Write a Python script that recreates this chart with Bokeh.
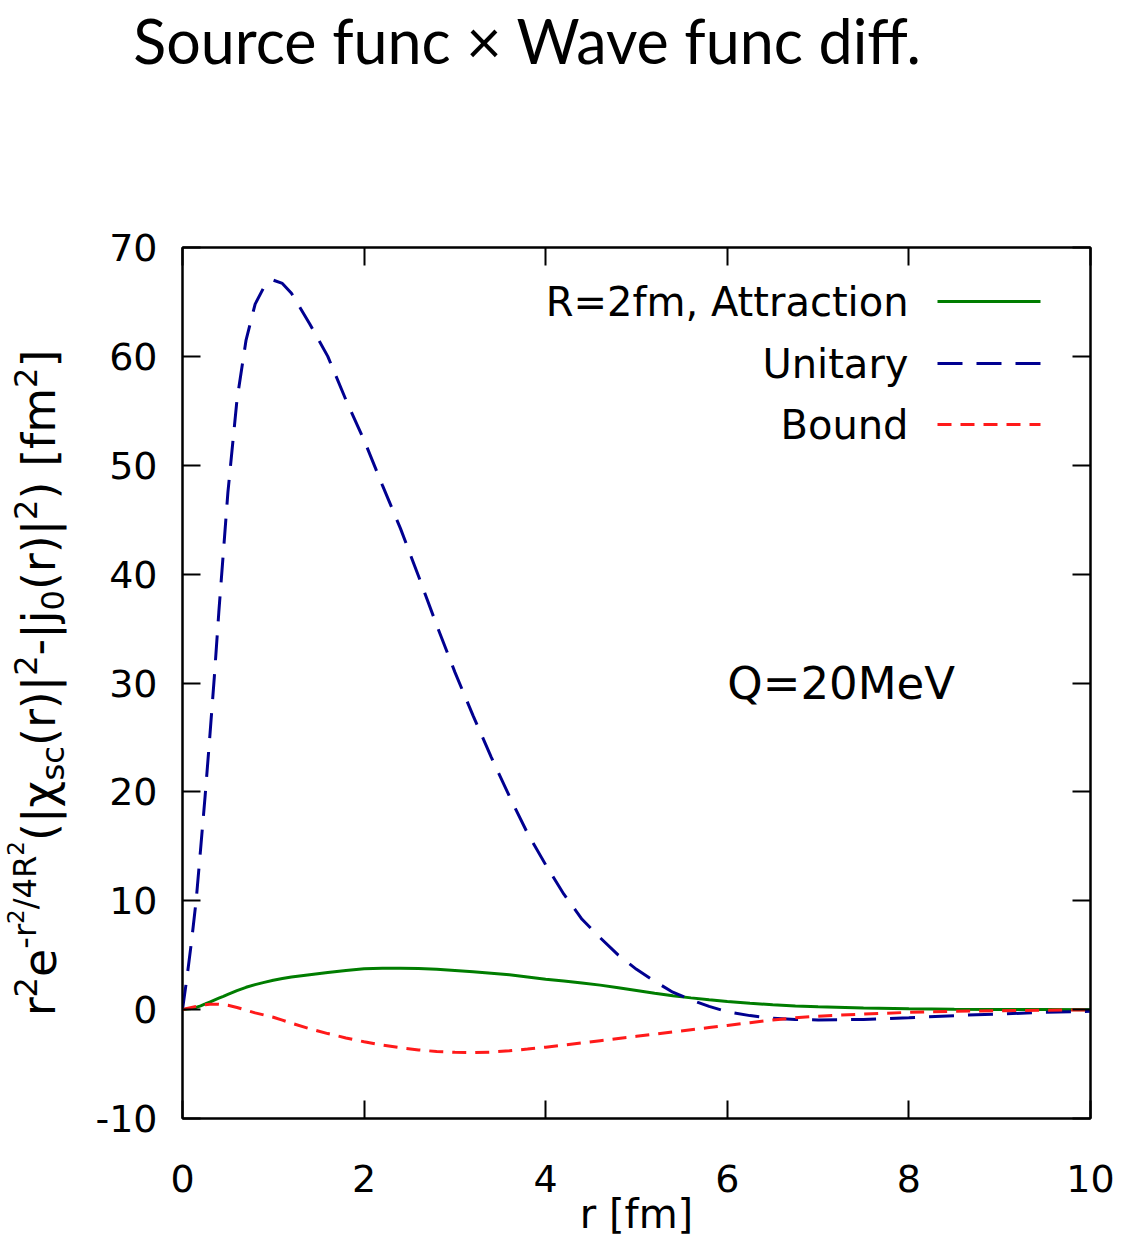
import math
from bokeh.plotting import figure
from bokeh.layouts import column, row
from bokeh.models import Label, LinearAxis, Range1d, FixedTicker, Arrow, ColumnDataSource
from bokeh.core.properties import value
from bokeh.embed import file_html
from bokeh.resources import INLINE

# ---------------- data ----------------
r = [0.0, 0.05, 0.1, 0.15, 0.2, 0.25, 0.3, 0.35, 0.4, 0.45, 0.5, 0.6, 0.7, 0.8, 0.9,
     1.0, 1.1, 1.2, 1.4, 1.6, 1.8, 2.0, 2.2, 2.4, 2.6, 2.8, 3.0, 3.2, 3.4, 3.6, 3.8,
     4.0, 4.2, 4.4, 4.6, 4.8, 5.0, 5.2, 5.4, 5.6, 5.8, 6.0, 6.25, 6.5, 6.75, 7.0,
     7.5, 8.0, 8.5, 9.0, 9.5, 10.0]

unitary = [0.0, 3.0, 6.3, 10.0, 14.8, 19.7, 25.0, 30.5, 36.5, 42.0, 47.5, 56.0, 61.5, 64.8, 66.4,
           67.0, 66.7, 65.8, 63.0, 60.0, 56.0, 52.3, 48.2, 44.2, 39.8, 35.3, 31.0, 27.0, 23.2, 19.6, 16.2,
           13.3, 10.6, 8.3, 6.6, 5.0, 3.7, 2.6, 1.6, 0.9, 0.3, -0.2, -0.55, -0.8, -0.9, -0.95,
           -0.9, -0.75, -0.55, -0.4, -0.25, -0.15]

attraction = [0.0, 0.05, 0.1, 0.2, 0.35, 0.52, 0.7, 0.88, 1.05, 1.22, 1.4, 1.75, 2.05, 2.3, 2.5,
              2.7, 2.85, 3.0, 3.2, 3.4, 3.6, 3.75, 3.8, 3.8, 3.78, 3.7, 3.6, 3.48, 3.35, 3.2, 3.0,
              2.8, 2.62, 2.44, 2.25, 2.0, 1.75, 1.5, 1.28, 1.08, 0.9, 0.75, 0.58, 0.45, 0.34, 0.26,
              0.15, 0.08, 0.04, 0.02, 0.01, 0.0]

bound = [0.0, 0.1, 0.2, 0.3, 0.4, 0.45, 0.5, 0.5, 0.5, 0.45, 0.4, 0.2, -0.05, -0.3, -0.5,
         -0.7, -0.97, -1.25, -1.75, -2.2, -2.6, -2.95, -3.25, -3.5, -3.7, -3.85, -3.92, -3.95, -3.9, -3.78, -3.62,
         -3.45, -3.25, -3.05, -2.85, -2.65, -2.45, -2.25, -2.05, -1.85, -1.65, -1.45, -1.2, -0.95, -0.75, -0.6,
         -0.4, -0.25, -0.15, -0.1, -0.05, -0.03]

series_names = ["R=2fm, Attraction", "Unitary", "Bound"]
x_ticks = [0, 2, 4, 6, 8, 10]
y_ticks = [-10, 0, 10, 20, 30, 40, 50, 60, 70]
title_text = "Source func \u00d7 Wave func diff."
x_label = "r [fm]"
note_text = "Q=20MeV"

# ---------------- styles / layout ----------------
GREEN = "#007d00"
BLUE = "#000090"
RED = "#ff1a1a"
BLUE_DASH = "25 14"
RED_DASH = "14 9"
AXFONT = "DejaVu Sans"
W, H = 1135, 1239
TOP_H = 120        # title strip height
LEFT_W = 82        # y-label strip width
FL, FR, FT, FB = 182, 1090, 247, 1119   # frame edges in page px
MID_SHIFT = 0.43   # text drawn with 'middle' baseline: baseline lies this many em below

# ---- title strip ----
tfig = figure(width=W, height=TOP_H, output_backend="svg", toolbar_location=None,
              x_range=Range1d(0, W), y_range=Range1d(0, TOP_H),
              x_axis_type=None, y_axis_type=None, min_border=0)
tfig.outline_line_color = None
tfig.xgrid.visible = False
tfig.ygrid.visible = False
TSIZE = 61
TBASE = 66
tfig.text(x=[527], y=[TOP_H - (TBASE - MID_SHIFT * TSIZE)], text=[title_text],
          text_font=value("Lato"), text_font_size=f"{TSIZE}px", text_color="black",
          text_align="center", text_baseline="middle")

# ---- main plot ----
MH = H - TOP_H
p = figure(width=W - LEFT_W, height=MH, output_backend="svg", toolbar_location=None,
           x_range=Range1d(0, 10), y_range=Range1d(-10, 70),
           min_border_left=FL - LEFT_W, min_border_right=W - FR,
           min_border_top=FT - TOP_H, min_border_bottom=H - FB)
p.xgrid.visible = False
p.ygrid.visible = False
p.background_fill_color = "white"
p.border_fill_color = "white"
p.outline_line_color = "black"
p.outline_line_width = 2


def style_axis(ax, ticks, show_labels, standoff):
    ax.ticker = FixedTicker(ticks=ticks)
    ax.major_tick_in = 18
    ax.major_tick_out = 0
    ax.minor_tick_line_color = None
    ax.major_tick_line_width = 2
    ax.major_tick_line_color = "black"
    ax.axis_line_width = 2
    ax.axis_line_color = "black"
    ax.major_label_text_font = AXFONT
    ax.major_label_text_font_size = "38px"
    ax.major_label_text_color = "black"
    ax.major_label_standoff = standoff
    if show_labels:
        ax.major_label_overrides = {t: str(t) for t in ticks}
    else:
        ax.major_label_overrides = {t: "" for t in ticks}


style_axis(p.xaxis[0], x_ticks, True, 46)
style_axis(p.yaxis[0], y_ticks, True, 25)
p.xaxis[0].axis_label = x_label
p.xaxis[0].axis_label_text_font = AXFONT
p.xaxis[0].axis_label_text_font_size = "40px"
p.xaxis[0].axis_label_text_font_style = "normal"
p.xaxis[0].axis_label_text_color = "black"
p.xaxis[0].axis_label_standoff = -4
right_ax = LinearAxis()
top_ax = LinearAxis()
style_axis(right_ax, y_ticks, False, 2)
style_axis(top_ax, x_ticks, False, 2)
p.add_layout(right_ax, "right")
p.add_layout(top_ax, "above")

# curves
p.line(r, attraction, line_color=GREEN, line_width=3)
p.line(r, unitary, line_color=BLUE, line_width=3, line_dash=BLUE_DASH)
p.line(r, bound, line_color=RED, line_width=3, line_dash=RED_DASH)

# custom legend (text right-aligned, sample line to its right) in frame screen units
leg_text_x = 908 - FL
leg_line = (937 - FL, 1040 - FL)
leg_rows = [FB - 302, FB - 364, FB - 425]
leg_styles = [(GREEN, "solid"), (BLUE, BLUE_DASH), (RED, RED_DASH)]
for name, yy, (col, dash) in zip(series_names, leg_rows, leg_styles):
    p.add_layout(Label(x=leg_text_x, y=yy, x_units="screen", y_units="screen", text=name,
                       text_font=AXFONT, text_font_size="40px", text_color="black",
                       text_align="right", text_baseline="middle"))
    p.add_layout(Arrow(end=None, x_start=leg_line[0], y_start=yy, x_end=leg_line[1], y_end=yy,
                       start_units="screen", end_units="screen",
                       line_color=col, line_width=3, line_dash=dash))

p.add_layout(Label(x=6.0, y=30, text=note_text, text_font=AXFONT, text_font_size="45px",
                   text_color="black", text_align="left", text_baseline="middle"))

# ---- y-label strip (composed super/subscripts) ----
lfig = figure(width=LEFT_W, height=MH, output_backend="svg", toolbar_location=None,
              x_range=Range1d(0, LEFT_W), y_range=Range1d(H - FB, H - FT),
              x_axis_type=None, y_axis_type=None,
              min_border_left=0, min_border_right=0,
              min_border_top=FT - TOP_H, min_border_bottom=H - FB)
lfig.outline_line_color = None
lfig.xgrid.visible = False
lfig.ygrid.visible = False

WID = {"r": .411, "e": .615, "2": .636, "4": .636, "0": .636, "-": .361, "/": .337,
       "R": .695, "(": .390, ")": .390, "|": .337, "\u03c7": .59, "s": .521, "c": .550,
       "j": .278, " ": .318, "[": .390, "]": .390, "f": .352, "m": .974}
F = 46
LEVELS = {0: (1.0, 0.0), 1: (0.7, 0.42), 2: (0.5, 0.72), -1: (0.7, -0.18)}
pieces = [("r", 0), ("2", 1), ("e", 0), ("-r", 1), ("2", 2), ("/4R", 1), ("2", 2),
          ("(|\u03c7", 0), ("sc", -1), ("(r)|", 0), ("2", 1), ("-|j", 0), ("0", -1),
          ("(r)|", 0), ("2", 1), (") [fm", 0), ("2", 1), ("]", 0)]


def piece_len(t, lvl):
    return sum(WID.get(ch, 0.6) for ch in t) * F * LEVELS[lvl][0]


total = sum(piece_len(t, l) for t, l in pieces)
base_x = 58
center_y = H - (FT + FB) / 2
pos = center_y - total / 2
xs, ys, ts, fs = [], [], [], []
for t, l in pieces:
    scale, off = LEVELS[l]
    size = F * scale
    xs.append(base_x - off * F - MID_SHIFT * size)
    ys.append(pos)
    ts.append(t)
    fs.append(f"{size:.1f}px")
    pos += piece_len(t, l)
src = ColumnDataSource(dict(x=xs, y=ys, text=ts, size=fs))
lfig.text(x="x", y="y", text="text", source=src, angle=math.pi / 2,
          text_font=value(AXFONT), text_font_size="size", text_color="black",
          text_align="left", text_baseline="middle")

layout = column(tfig, row(lfig, p, spacing=0), spacing=0)
open("out.html", "w").write(file_html(layout, INLINE))
